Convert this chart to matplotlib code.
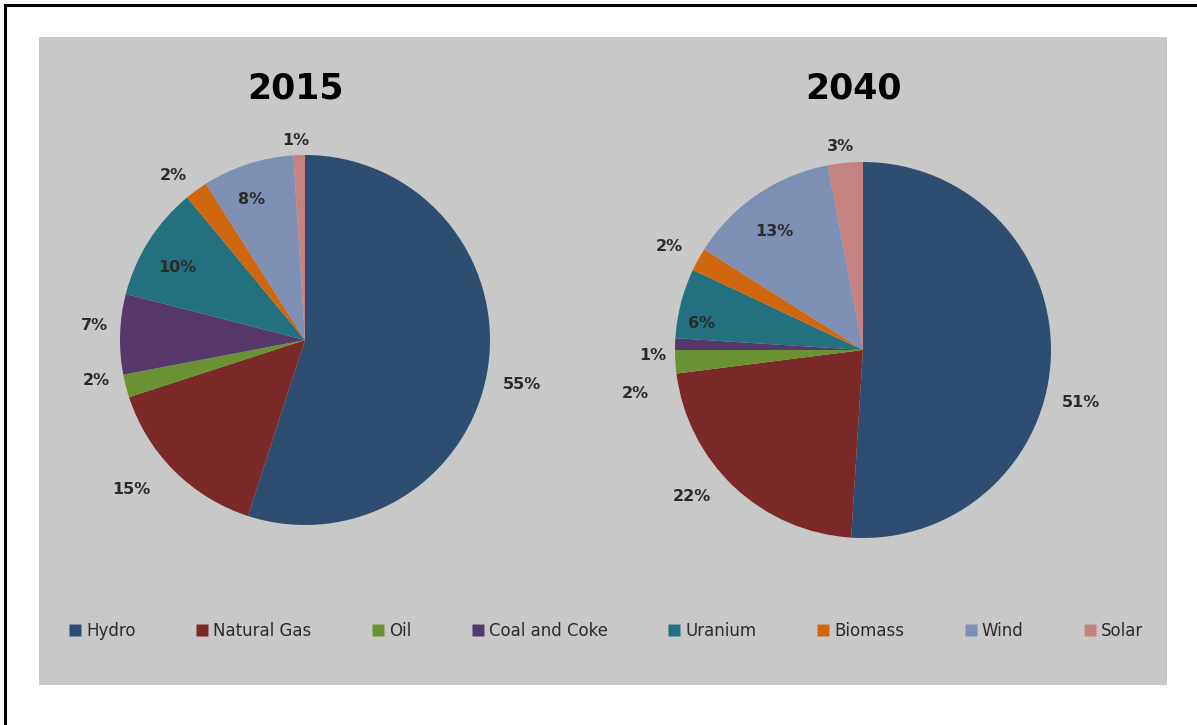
import matplotlib.pyplot as plt
from matplotlib.patches import Rectangle
from matplotlib.lines import Line2D

# --- Data ---
sources = ['Hydro', 'Natural Gas', 'Oil', 'Coal and Coke',
           'Uranium', 'Biomass', 'Wind', 'Solar']
share_2015 = [55, 15, 2, 7, 10, 2, 8, 1]
share_2040 = [51, 22, 2, 1, 6, 2, 13, 3]
colors = ['#2d4d71', '#7b2a29', '#6a9233', '#56386a',
          '#23717f', '#d0670f', '#7d8fb3', '#c48281']

# label offsets from pie centre, in units of the radius
label_xy_2015 = [(1.17, -0.24), (-0.94, -0.81), (-1.13, -0.22), (-1.14, 0.08),
                 (-0.69, 0.39), (-0.71, 0.89), (-0.29, 0.76), (-0.05, 1.08)]
label_xy_2040 = [(1.16, -0.28), (-0.91, -0.78), (-1.21, -0.23), (-1.12, -0.03),
                 (-0.86, 0.14), (-1.03, 0.55), (-0.47, 0.63), (-0.12, 1.08)]

W, H = 1197, 725
BG = '#c8c8c8'

fig = plt.figure(figsize=(W / 100, H / 100), dpi=100)
fig.patch.set_facecolor('white')
ax = fig.add_axes([0, 0, 1, 1])

# grey chart area
ax.add_patch(Rectangle((39, H - 685), 1128, 648, facecolor=BG,
                       edgecolor='none', zorder=0))
# frame lines on top and left
ax.plot([5, 5], [0, H - 5], color='black', lw=2.2, zorder=5)
ax.plot([5, W], [H - 5, H - 5], color='black', lw=2.2, zorder=5)


def draw_pie(values, center, radius, label_xy, title, title_y):
    ax.pie(values, colors=colors, startangle=90, counterclock=False,
           center=center, radius=radius,
           wedgeprops=dict(linewidth=0, edgecolor='none'))
    for v, (lx, ly) in zip(values, label_xy):
        ax.text(center[0] + lx * radius, center[1] + ly * radius, f'{v}%',
                ha='center', va='center', fontsize=11.5, color='#2b2b2b',
                fontweight='bold', family='DejaVu Sans')
    ax.text(center[0] - 10, title_y, title, ha='center', va='center',
            fontsize=25, fontweight='bold', color='black')


draw_pie(share_2015, (305, H - 340), 185, label_xy_2015, '2015', H - 88)
draw_pie(share_2040, (863, H - 350), 188, label_xy_2040, '2040', H - 88)

ax.set_xlim(0, W)
ax.set_ylim(0, H)
ax.set_aspect('auto')
ax.axis('off')

handles = [Line2D([], [], marker='s', linestyle='none', markersize=8,
                  markerfacecolor=c, markeredgecolor='none') for c in colors]
fig.legend(handles, sources, ncol=8, loc='center',
           bbox_to_anchor=(605 / W, (H - 631) / H), frameon=False,
           fontsize=12, handletextpad=0.15, columnspacing=3.5,
           handlelength=1.0, labelcolor='#2b2b2b')

fig.savefig('out.png', dpi=100, facecolor='white')
